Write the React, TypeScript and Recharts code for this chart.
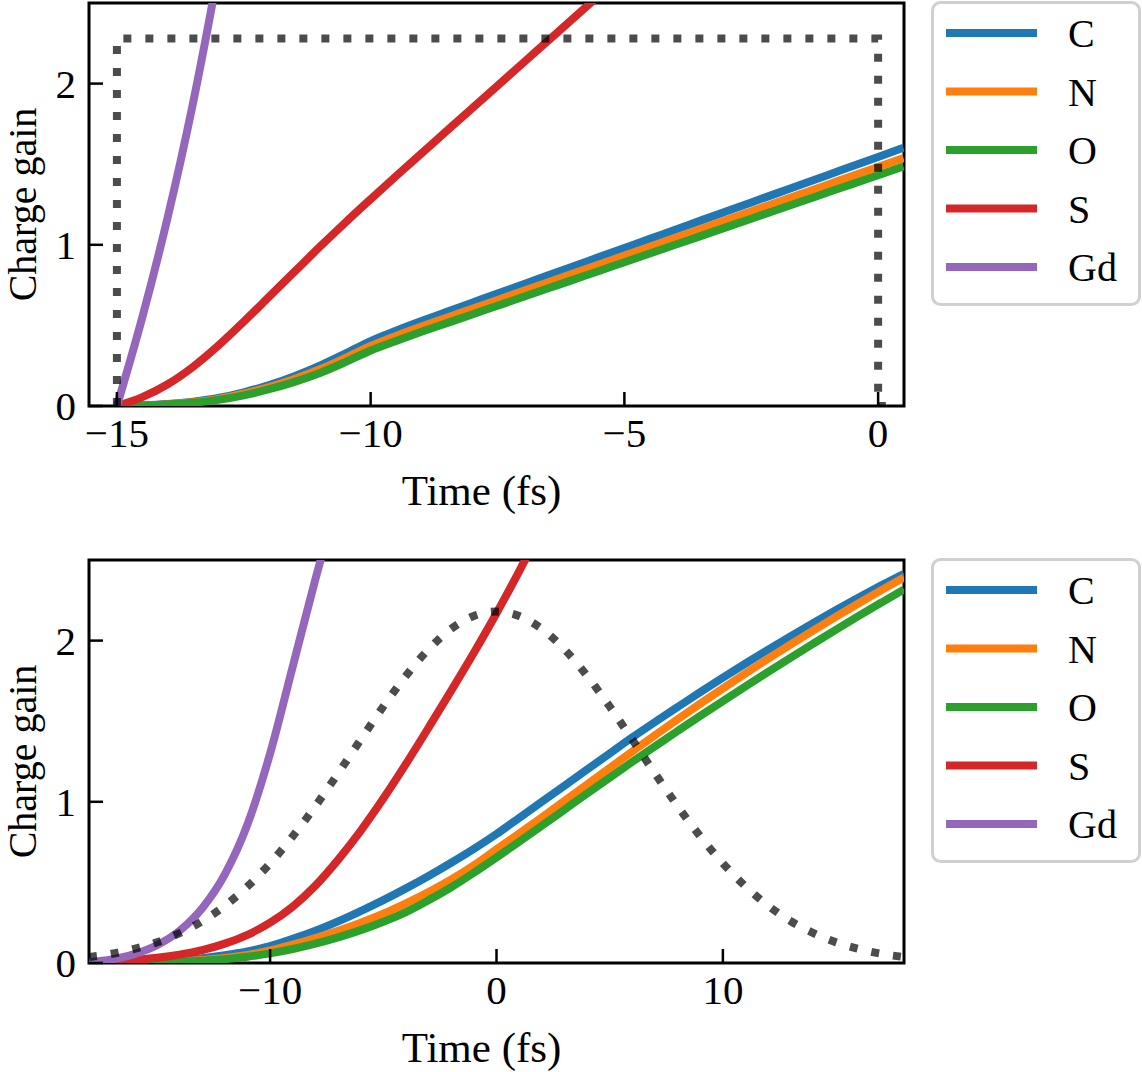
import React from 'react';
import { LineChart, Line, XAxis, YAxis, ReferenceArea, Legend } from 'recharts';

// ---------- data ----------
const SERIES_NAMES = ['C', 'N', 'O', 'S', 'Gd'];
const SERIES_COLORS = ['#1f77b4', '#ff7f0e', '#2ca02c', '#d62728', '#9467bd'];

// top panel (square pulse)
const topTime = [-15, -14.5, -14, -13.5, -13, -12.5, -12, -11.5, -11, -10.5, -10, -9.5, -9, -8.5, -8, -7.5, -7, -6.5, -6, -5.5, -5, -4.5, -4, -3.5, -3, -2.5, -2, -1.5, -1, -0.5, 0, 0.5];
const topC = [0, 0.004, 0.012, 0.027, 0.05, 0.085, 0.13, 0.185, 0.25, 0.325, 0.403, 0.467, 0.527, 0.584, 0.641, 0.698, 0.754, 0.811, 0.867, 0.924, 0.98, 1.037, 1.093, 1.15, 1.206, 1.263, 1.319, 1.376, 1.432, 1.489, 1.545, 1.602];
const topN = [0, 0.003, 0.01, 0.023, 0.044, 0.076, 0.118, 0.168, 0.228, 0.298, 0.372, 0.435, 0.493, 0.548, 0.603, 0.658, 0.713, 0.768, 0.823, 0.878, 0.933, 0.988, 1.043, 1.098, 1.153, 1.208, 1.263, 1.318, 1.373, 1.428, 1.483, 1.538];
const topO = [0, 0.003, 0.009, 0.02, 0.038, 0.066, 0.104, 0.15, 0.205, 0.272, 0.344, 0.403, 0.46, 0.514, 0.568, 0.622, 0.676, 0.73, 0.784, 0.838, 0.892, 0.946, 1.0, 1.054, 1.108, 1.162, 1.216, 1.27, 1.324, 1.378, 1.432, 1.486];
const topS = [0, 0.055, 0.135, 0.243, 0.375, 0.523, 0.678, 0.833, 0.988, 1.138, 1.283, 1.426, 1.567, 1.707, 1.847, 1.987, 2.127, 2.267, 2.407, 2.547, 2.687, null, null, null, null, null, null, null, null, null, null, null];
const topGd = [0, 0.55, 1.17, 1.88, 2.7, 3.6, null, null, null, null, null, null, null, null, null, null, null, null, null, null, null, null, null, null, null, null, null, null, null, null, null, null];
const topPulseTime = [-15, -15, 0, 0, 0.25];
const topPulseValue = [0, 2.28, 2.28, 0, 0];

// bottom panel (gaussian pulse)
const botTime = [-18, -17, -16, -15, -14, -13, -12, -11, -10, -9, -8, -7, -6, -5, -4, -3, -2, -1, 0, 1, 2, 3, 4, 5, 6, 7, 8, 9, 10, 11, 12, 13, 14, 15, 16, 17, 18];
const botC = [0, 0.002, 0.005, 0.01, 0.018, 0.03, 0.048, 0.072, 0.105, 0.15, 0.2, 0.258, 0.322, 0.39, 0.463, 0.54, 0.622, 0.708, 0.8, 0.9, 1.0, 1.1, 1.2, 1.3, 1.4, 1.495, 1.588, 1.68, 1.77, 1.858, 1.944, 2.028, 2.11, 2.19, 2.268, 2.343, 2.415];
const botN = [0, 0.001, 0.003, 0.006, 0.011, 0.019, 0.031, 0.05, 0.078, 0.114, 0.155, 0.2, 0.25, 0.306, 0.37, 0.44, 0.518, 0.606, 0.705, 0.803, 0.903, 1.005, 1.107, 1.21, 1.312, 1.413, 1.512, 1.609, 1.704, 1.797, 1.888, 1.977, 2.064, 2.149, 2.232, 2.313, 2.392];
const botO = [0, 0.001, 0.002, 0.004, 0.008, 0.014, 0.024, 0.039, 0.06, 0.087, 0.12, 0.159, 0.204, 0.256, 0.316, 0.39, 0.47, 0.56, 0.655, 0.752, 0.851, 0.951, 1.051, 1.15, 1.248, 1.344, 1.439, 1.533, 1.625, 1.716, 1.806, 1.895, 1.982, 2.068, 2.153, 2.236, 2.318];
const botS = [0, 0.008, 0.018, 0.032, 0.052, 0.08, 0.12, 0.175, 0.25, 0.35, 0.48, 0.64, 0.82, 1.02, 1.235, 1.46, 1.69, 1.925, 2.17, 2.43, 2.7, null, null, null, null, null, null, null, null, null, null, null, null, null, null, null, null];
const botGd = [0.005, 0.022, 0.055, 0.11, 0.2, 0.34, 0.55, 0.86, 1.3, 1.84, 2.38, 2.9, null, null, null, null, null, null, null, null, null, null, null, null, null, null, null, null, null, null, null, null, null, null, null, null, null];
const botPulse = [0.037, 0.057, 0.087, 0.128, 0.185, 0.259, 0.355, 0.475, 0.618, 0.786, 0.973, 1.176, 1.385, 1.591, 1.782, 1.946, 2.073, 2.153, 2.18, 2.153, 2.073, 1.946, 1.782, 1.591, 1.385, 1.176, 0.973, 0.786, 0.618, 0.475, 0.355, 0.259, 0.185, 0.128, 0.087, 0.057, 0.037];

const topXDomain = [-15.55, 0.51];
const botXDomain = [-18, 18];
const yDomain = [0, 2.5];
const topXTicks = [-15, -10, -5, 0];
const botXTicks = [-10, 0, 10];
const yTicks = [0, 1, 2];

// ---------- helpers ----------
const FONT = "'Liberation Serif', 'DejaVu Serif', serif";

function toPoints(time: number[], values: (number | null)[]) {
  return time.map((t, i) => ({ t, v: values[i] }));
}

function fmt(v: number) {
  return v < 0 ? '\u2212' + Math.abs(v) : String(v);
}

const XTick = (props: any) => {
  const { x, y, payload } = props;
  return (
    <g>
      <line x1={x} x2={x} y1={y} y2={y - 14} stroke="#000" strokeWidth={2.5} />
      <text x={x} y={y + 41} textAnchor="middle" fontSize={41} fontFamily={FONT} fill="#000">
        {fmt(payload.value)}
      </text>
    </g>
  );
};

const YTick = (props: any) => {
  const { x, y, payload } = props;
  return (
    <g>
      <line x1={x} x2={x + 14} y1={y} y2={y} stroke="#000" strokeWidth={2.5} />
      <text x={x - 13} y={y + 14} textAnchor="end" fontSize={41} fontFamily={FONT} fill="#000">
        {fmt(payload.value)}
      </text>
    </g>
  );
};

const XLabel = () => (
  <text x={481.5} y={505} textAnchor="middle" fontSize={43} fontFamily={FONT} fill="#000">
    Time (fs)
  </text>
);

const YLabel = () => (
  <text
    transform="translate(36,204.5) rotate(-90)"
    textAnchor="middle"
    fontSize={40}
    fontFamily={FONT}
    fill="#000"
  >
    Charge gain
  </text>
);

const LegendBox = () => (
  <svg width={212} height={306} style={{ display: 'block' }}>
    <rect x={1.5} y={1.5} width={207} height={302} rx={8} ry={8} fill="#fff" stroke="#d0d0d0" strokeWidth={3} />
    {SERIES_NAMES.map((n, i) => {
      const cy = 32 + i * 58.5;
      return (
        <g key={n}>
          <line x1={15} x2={106} y1={cy} y2={cy} stroke={SERIES_COLORS[i]} strokeWidth={8} />
          <text x={137} y={cy + 14} fontSize={40} fontFamily={FONT} fill="#000">
            {n}
          </text>
        </g>
      );
    })}
  </svg>
);

type PanelProps = {
  height: number;
  bottomMargin: number;
  xDomain: number[];
  xTicks: number[];
  series: (number | null)[][];
  time: number[];
  pulseTime: number[];
  pulseValue: number[];
};

const Panel = ({ height, bottomMargin, xDomain, xTicks, series, time, pulseTime, pulseValue }: PanelProps) => (
  <LineChart width={1142} height={height} margin={{ top: 3, right: 238, bottom: bottomMargin, left: 29 }}>
    <XAxis
      type="number"
      dataKey="t"
      domain={xDomain}
      ticks={xTicks}
      interval={0}
      allowDataOverflow
      axisLine={false}
      tickLine={false}
      tickSize={0}
      tickMargin={0}
      height={60}
      tick={<XTick />}
      label={<XLabel />}
    />
    <YAxis
      type="number"
      domain={yDomain}
      ticks={yTicks}
      interval={0}
      allowDataOverflow
      axisLine={false}
      tickLine={false}
      tickSize={0}
      tickMargin={0}
      width={60}
      tick={<YTick />}
      label={<YLabel />}
    />
    {series.map((vals, i) => (
      <Line
        key={SERIES_NAMES[i]}
        name={SERIES_NAMES[i]}
        data={toPoints(time, vals)}
        dataKey="v"
        type="monotone"
        stroke={SERIES_COLORS[i]}
        strokeWidth={8}
        dot={false}
        activeDot={false}
        isAnimationActive={false}
      />
    ))}
    <Line
      name="pulse"
      legendType="none"
      data={toPoints(pulseTime, pulseValue)}
      dataKey="v"
      type={pulseTime === time ? 'monotone' : 'linear'}
      stroke="#000"
      strokeOpacity={0.7}
      strokeWidth={8}
      strokeDasharray="8 14"
      strokeLinecap="butt"
      dot={false}
      activeDot={false}
      isAnimationActive={false}
    />
    <ReferenceArea
      x1={xDomain[0]}
      x2={xDomain[1]}
      y1={yDomain[0]}
      y2={yDomain[1]}
      fill="none"
      fillOpacity={0}
      stroke="#000"
      strokeWidth={3}
      ifOverflow="visible"
    />
    <Legend
      layout="vertical"
      align="center"
      verticalAlign="middle"
      wrapperStyle={{ left: 931, top: 1, width: 212, height: 306 }}
      content={() => <LegendBox />}
    />
  </LineChart>
);

export default function App() {
  return (
    <div style={{ position: 'absolute', left: 0, top: 0, width: 1142, height: 1072, background: '#fff', overflow: 'hidden' }}>
      <div style={{ position: 'absolute', left: 0, top: 0 }}>
        <Panel
          height={540}
          bottomMargin={74}
          xDomain={topXDomain}
          xTicks={topXTicks}
          series={[topC, topN, topO, topS, topGd]}
          time={topTime}
          pulseTime={topPulseTime}
          pulseValue={topPulseValue}
        />
      </div>
      <div style={{ position: 'absolute', left: 0, top: 557 }}>
        <Panel
          height={515}
          bottomMargin={49}
          xDomain={botXDomain}
          xTicks={botXTicks}
          series={[botC, botN, botO, botS, botGd]}
          time={botTime}
          pulseTime={botTime}
          pulseValue={botPulse}
        />
      </div>
    </div>
  );
}
